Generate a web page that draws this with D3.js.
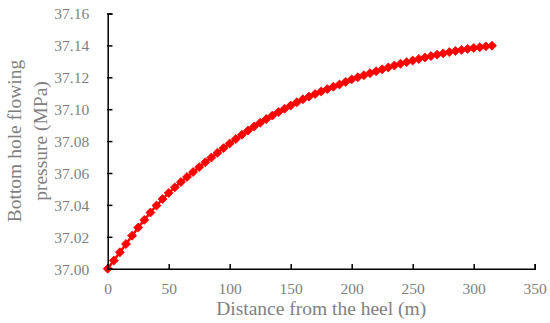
<!DOCTYPE html>
<html>
<head>
<meta charset="utf-8">
<script src="https://cdn.jsdelivr.net/npm/d3@7"></script>
<style>
  html, body { margin: 0; padding: 0; background: #fff; }
  svg { display: block; }
  text { font-family: "Liberation Serif", "Times New Roman", serif; fill: #7f7f7f; }
</style>
</head>
<body>
<svg id="chart" width="550" height="323"></svg>
<script>
// Distance from the heel (m)
const distance = [0,5,10,15,20,25,30,35,40,45,50,55,60,65,70,75,80,85,90,95,100,105,110,115,120,125,130,135,140,145,150,155,160,165,170,175,180,185,190,195,200,205,210,215,220,225,230,235,240,245,250,255,260,265,270,275,280,285,290,295,300,305,310,315];
// Bottom hole flowing pressure (MPa)
const pressure = [37.0000,37.0051,37.0103,37.0155,37.0207,37.0258,37.0306,37.0352,37.0396,37.0437,37.0475,37.0510,37.0543,37.0575,37.0606,37.0637,37.0667,37.0697,37.0727,37.0756,37.0785,37.0813,37.0840,37.0866,37.0891,37.0915,37.0938,37.0960,37.0982,37.1003,37.1023,37.1043,37.1062,37.1079,37.1095,37.1111,37.1126,37.1141,37.1155,37.1171,37.1187,37.1200,37.1213,37.1226,37.1238,37.1250,37.1262,37.1274,37.1285,37.1295,37.1305,37.1315,37.1324,37.1333,37.1342,37.1350,37.1358,37.1365,37.1372,37.1378,37.1384,37.1389,37.1394,37.1398];
const xTicks = [0,50,100,150,200,250,300,350];
const yTicks = [37.00,37.02,37.04,37.06,37.08,37.10,37.12,37.14,37.16];
const xTitle = "Distance from the heel (m)";
const yTitleLines = ["Bottom hole flowing", "pressure (MPa)"];

const svg = d3.select("#chart");
const x = d3.scaleLinear().domain([0, 350]).range([107.7, 534.7]);
const y = d3.scaleLinear().domain([37.00, 37.16]).range([268.7, 13.5]);

const data = distance.map((d, i) => ({d, p: pressure[i]}));

// Series line
svg.append("path")
  .datum(data)
  .attr("fill", "none")
  .attr("stroke", "#ff0000")
  .attr("stroke-width", 2.5)
  .attr("d", d3.line().x(v => x(v.d)).y(v => y(v.p)));

// Diamond markers (rotated squares)
const sym = d3.symbol().type(d3.symbolSquare).size(40);
svg.append("g").selectAll("path")
  .data(data)
  .join("path")
  .attr("d", sym)
  .attr("fill", "#ff0000")
  .attr("stroke", "#ff0000")
  .attr("stroke-width", 0.8)
  .attr("stroke-linejoin", "round")
  .attr("transform", v => `translate(${x(v.d)},${y(v.p)}) rotate(45)`);

// Axes
const xAxis = d3.axisBottom(x).tickValues(xTicks).tickSizeInner(-4).tickSizeOuter(-4).tickPadding(0).tickFormat(d3.format("d"));
const gx = svg.append("g").attr("transform", `translate(0,${y(37.00)})`).call(xAxis);
gx.select(".domain").attr("stroke", "#000").attr("stroke-width", 1.5);
gx.selectAll(".tick line").attr("stroke", "#000").attr("stroke-width", 1.5);
gx.selectAll(".tick text")
  .attr("y", 25.3).attr("dy", 0)
  .style("font-size", "15.5px").style("fill", "#7f7f7f")
  .attr("font-family", null);

const yAxis = d3.axisLeft(y).tickValues(yTicks).tickSizeInner(-4).tickSizeOuter(-4).tickPadding(0).tickFormat(d3.format(".2f"));
const gy = svg.append("g").attr("transform", `translate(${x(0)},0)`).call(yAxis);
gy.select(".domain").attr("stroke", "#000").attr("stroke-width", 1.5);
gy.selectAll(".tick line").attr("stroke", "#000").attr("stroke-width", 1.5);
gy.selectAll(".tick text")
  .attr("x", -18.5).attr("dy", "0.35em")
  .style("font-size", "15.5px").style("fill", "#7f7f7f")
  .attr("font-family", null);

svg.selectAll(".domain, .tick line").attr("stroke-linecap", "square");

// X title
svg.append("text")
  .attr("x", (x(0) + x(350)) / 2)
  .attr("y", 315)
  .attr("text-anchor", "middle")
  .style("font-size", "19.5px")
  .text(xTitle);

// Y title (two lines)
const yt = svg.append("text")
  .attr("transform", "translate(21,141) rotate(-90)")
  .attr("text-anchor", "middle")
  .style("font-size", "19.5px");
yt.selectAll("tspan")
  .data(yTitleLines)
  .join("tspan")
  .attr("x", 0)
  .attr("y", (d, i) => i * 26)
  .text(d => d);
</script>
</body>
</html>
